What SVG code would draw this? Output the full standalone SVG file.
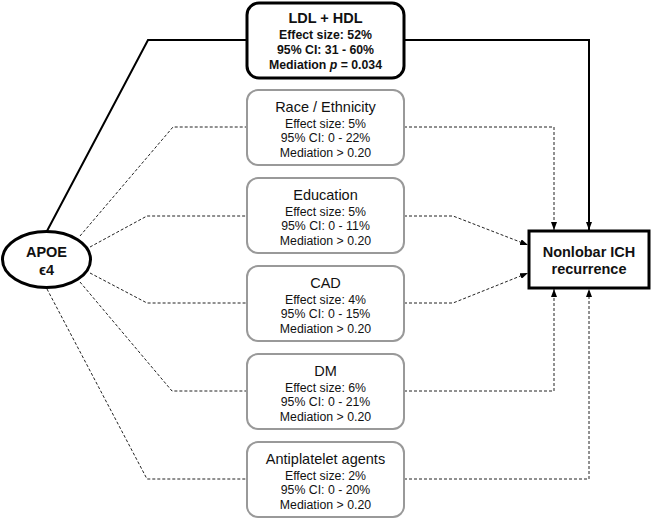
<svg xmlns="http://www.w3.org/2000/svg" width="652" height="519" viewBox="0 0 652 519">
<style>
text{font-family:"Liberation Sans",Arial,sans-serif;text-anchor:middle;fill:#111}
.t{font-size:14.5px}
.s{font-size:12.3px}
.b{font-weight:bold}
.med{fill:#fff;stroke:#999;stroke-width:2}
.solid{fill:none;stroke:#000;stroke-width:2}
.dash{fill:none;stroke:#222;stroke-width:1;stroke-dasharray:3 2}
</style>
<defs>
<marker id="ah" viewBox="0 0 8 6" refX="8" refY="3" markerWidth="8" markerHeight="6" markerUnits="userSpaceOnUse" orient="auto">
<path d="M0,0 L8,3 L0,6 z" fill="#000"/>
</marker>
</defs>
<rect width="652" height="519" fill="#fff"/>
<g id="connectors">
<path class="solid" d="M47,231 L148,40 L247,40"/>
<path class="solid" d="M404,40 L589,40 L589,230" marker-end="url(#ah)"/>
<path class="dash" d="M80,236 L173,127 L247,127"/>
<path class="dash" d="M404,127 L554,127 L554,230" marker-end="url(#ah)"/>
<path class="dash" d="M90,247 L147,216 L247,216"/>
<path class="dash" d="M404,216 L453,216 L528,245" marker-end="url(#ah)"/>
<path class="dash" d="M90,273 L147,303 L247,303"/>
<path class="dash" d="M404,303 L453,303 L528,273" marker-end="url(#ah)"/>
<path class="dash" d="M80,282 L172,391 L247,391"/>
<path class="dash" d="M404,391 L554,391 L554,289" marker-end="url(#ah)"/>
<path class="dash" d="M47,289 L147,479 L247,479"/>
<path class="dash" d="M404,479 L589,479 L589,289" marker-end="url(#ah)"/>
</g>
<g id="apoe">
<ellipse cx="46.5" cy="259.5" rx="44" ry="28" fill="#fff" stroke="#000" stroke-width="3"/>
<text class="t b" x="46.5" y="257">APOE</text>
<text class="t b" x="46.5" y="275">ϵ4</text>
</g>
<g id="ldl-hdl">
<rect x="247" y="3" width="157" height="75" rx="12" fill="#fff" stroke="#000" stroke-width="3"/>
<text class="t b" x="325.5" y="23">LDL + HDL</text>
<text class="s b" x="325.5" y="38.5">Effect size: 52%</text>
<text class="s b" x="325.5" y="53.5">95% CI: 31 - 60%</text>
<text class="s b" x="325.5" y="68.5">Mediation <tspan font-style="italic">p</tspan> = 0.034</text>
</g>
<g id="race">
<rect class="med" x="247" y="90" width="157" height="75" rx="11"/>
<text class="t" x="325.5" y="112">Race / Ethnicity</text>
<text class="s" x="325.5" y="127.5">Effect size: 5%</text>
<text class="s" x="325.5" y="142">95% CI: 0 - 22%</text>
<text class="s" x="325.5" y="156.5">Mediation &gt; 0.20</text>
</g>
<g id="education">
<rect class="med" x="247" y="178" width="157" height="75" rx="11"/>
<text class="t" x="325.5" y="200">Education</text>
<text class="s" x="325.5" y="215.5">Effect size: 5%</text>
<text class="s" x="325.5" y="230">95% CI: 0 - 11%</text>
<text class="s" x="325.5" y="244.5">Mediation &gt; 0.20</text>
</g>
<g id="cad">
<rect class="med" x="247" y="266" width="157" height="75" rx="11"/>
<text class="t" x="325.5" y="288">CAD</text>
<text class="s" x="325.5" y="303.5">Effect size: 4%</text>
<text class="s" x="325.5" y="318">95% CI: 0 - 15%</text>
<text class="s" x="325.5" y="332.5">Mediation &gt; 0.20</text>
</g>
<g id="dm">
<rect class="med" x="247" y="354" width="157" height="75" rx="11"/>
<text class="t" x="325.5" y="376">DM</text>
<text class="s" x="325.5" y="391.5">Effect size: 6%</text>
<text class="s" x="325.5" y="406">95% CI: 0 - 21%</text>
<text class="s" x="325.5" y="420.5">Mediation &gt; 0.20</text>
</g>
<g id="antiplatelet">
<rect class="med" x="247" y="442" width="157" height="75" rx="11"/>
<text class="t" x="325.5" y="464">Antiplatelet agents</text>
<text class="s" x="325.5" y="479.5">Effect size: 2%</text>
<text class="s" x="325.5" y="494">95% CI: 0 - 20%</text>
<text class="s" x="325.5" y="508.5">Mediation &gt; 0.20</text>
</g>
<g id="nonlobar">
<rect x="529" y="231" width="120" height="57" fill="#fff" stroke="#000" stroke-width="3"/>
<text class="t b" x="589" y="257">Nonlobar ICH</text>
<text class="t b" x="589" y="274">recurrence</text>
</g>
</svg>
